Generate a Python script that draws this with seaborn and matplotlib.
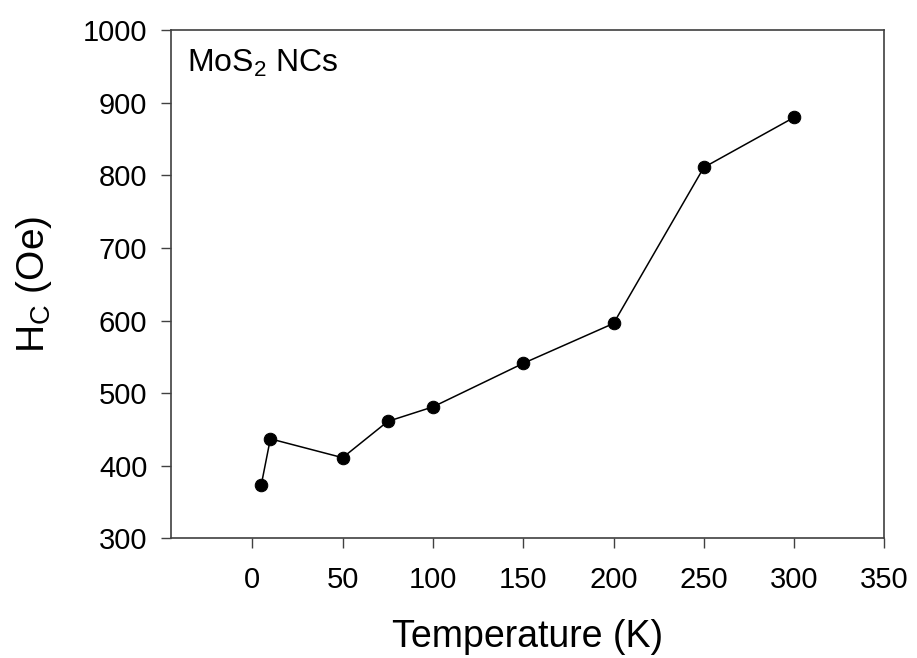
import pandas as pd
import matplotlib
matplotlib.use("Agg")
import matplotlib.pyplot as plt
import seaborn as sns

# Coercivity vs temperature values
temperature = [5, 10, 50, 75, 100, 150, 200, 250, 300]
coercivity = [374, 437, 411, 461, 481, 541, 596, 811, 880]

x_ticks = [0, 50, 100, 150, 200, 250, 300, 350]
y_ticks = [300, 400, 500, 600, 700, 800, 900, 1000]

df = pd.DataFrame({"T": temperature, "Hc": coercivity})

sns.set_style("ticks")
plt.rcParams['font.family'] = ['Liberation Sans', 'DejaVu Sans']
plt.rcParams['text.color'] = 'black'
plt.rcParams['axes.labelcolor'] = 'black'

fig = plt.figure(figsize=(9.17, 6.58), dpi=100)
ax = fig.add_axes([0.1865, 0.182, 0.778, 0.772])

sns.lineplot(data=df, x="T", y="Hc", ax=ax, color="black", linewidth=1.1,
             marker="o", markersize=9, markeredgecolor="black", sort=False)

ax.set_xlim(-45, 350)
ax.set_ylim(300, 1000)
ax.set_xticks(x_ticks)
ax.set_yticks(y_ticks)
ax.tick_params(axis="both", labelsize=21, direction="out", length=7, width=1,
               color="#404040", labelcolor="black", pad=10, top=False, right=False)
ax.tick_params(axis="x", pad=13)
for side in ["top", "right", "bottom", "left"]:
    ax.spines[side].set_visible(True)
    ax.spines[side].set_color("#404040")
    ax.spines[side].set_linewidth(1.2)

ax.set_xlabel("Temperature (K)", fontsize=27, labelpad=18)
ax.set_ylabel(r"H$_\mathregular{C}$ (Oe)", fontsize=28, labelpad=21)

ax.text(0.022, 0.965, r"MoS$_\mathregular{2}$ NCs", transform=ax.transAxes,
        fontsize=23, ha="left", va="top")

fig.savefig("out.png", dpi=100)
